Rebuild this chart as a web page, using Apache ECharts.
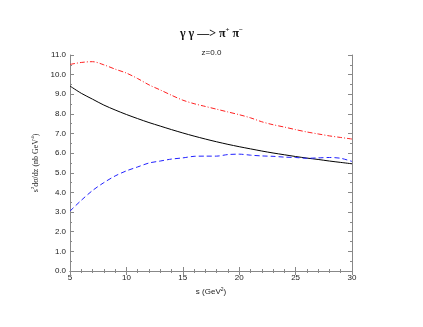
<!DOCTYPE html>
<html>
<head>
<meta charset="utf-8">
<script src="https://cdn.jsdelivr.net/npm/echarts@6/dist/echarts.min.js"></script>
<style>
html, body { margin: 0; padding: 0; background: #fff; }
#main { width: 423px; height: 327px; }
</style>
</head>
<body>
<div id="main"></div>
<script>
// s values (GeV^2)
var sVals = [5, 6, 7, 8, 9, 10, 11, 12, 13, 14, 15, 16, 17, 18, 19, 20, 21, 22, 23, 24, 25, 26, 27, 28, 29, 30];
// red dash-dot curve
var redVals = [10.52, 10.62, 10.66, 10.5, 10.28, 10.08, 9.8, 9.48, 9.22, 8.95, 8.7, 8.52, 8.38, 8.24, 8.1, 7.96, 7.8, 7.6, 7.45, 7.33, 7.2, 7.08, 6.98, 6.88, 6.8, 6.72];
// black solid curve
var blackVals = [9.42, 9.05, 8.75, 8.45, 8.2, 7.97, 7.76, 7.56, 7.38, 7.2, 7.03, 6.87, 6.72, 6.58, 6.45, 6.33, 6.22, 6.11, 6.01, 5.92, 5.83, 5.75, 5.68, 5.6, 5.53, 5.46];
// blue dashed curve
var blueVals = [3.05, 3.6, 4.1, 4.5, 4.84, 5.1, 5.3, 5.5, 5.6, 5.7, 5.76, 5.84, 5.85, 5.85, 5.93, 5.95, 5.9, 5.86, 5.84, 5.8, 5.78, 5.74, 5.76, 5.78, 5.74, 5.58];

function pairs(ys) {
    var out = [];
    for (var i = 0; i < sVals.length; i++) {
        out.push([sVals[i], ys[i]]);
    }
    return out;
}

var axisColor = '#888';
var labelStyle = { fontSize: 8, color: '#222', fontFamily: 'Liberation Sans' };

var chart = echarts.init(document.getElementById('main'));
var option = {
    animation: false,
    title: [
        {
            text: '{t|γ γ —> π}{s|+}{t| π}{s|−}',
            left: 'center',
            top: 22,
            textStyle: {
                rich: {
                    t: { fontSize: 12, fontFamily: 'Liberation Serif', color: '#111' },
                    s: { fontSize: 7, fontFamily: 'Liberation Serif', color: '#111', verticalAlign: 'top', padding: [0, 0, 6, 0] }
                }
            }
        },
        {
            text: 'z=0.0',
            left: 'center',
            top: 44,
            textStyle: { fontSize: 8, fontWeight: 'normal', color: '#222', fontFamily: 'Liberation Sans' }
        }
    ],
    grid: { left: 70, right: 71, top: 55, bottom: 56 },
    xAxis: [
        {
            type: 'value', min: 5, max: 30, interval: 5,
            name: '{a|s (GeV}{b|2}{a|)}',
            nameLocation: 'middle', nameGap: 13,
            nameTextStyle: { rich: {
                a: { fontSize: 8, color: '#222', fontFamily: 'Liberation Sans' },
                b: { fontSize: 5, color: '#222', fontFamily: 'Liberation Sans', verticalAlign: 'top', padding: [0, 0, 5, 0] }
            } },
            axisLine: { show: true, lineStyle: { color: axisColor } },
            axisTick: { inside: true, length: 4, lineStyle: { color: axisColor } },
            minorTick: { show: true, splitNumber: 5, length: 2, lineStyle: { color: axisColor } },
            axisLabel: Object.assign({ margin: 3 }, labelStyle),
            splitLine: { show: false }
        },
        {
            type: 'value', min: 5, max: 30, interval: 5, position: 'top',
            axisLine: { show: true, lineStyle: { color: axisColor } },
            axisTick: { inside: true, length: 4, lineStyle: { color: axisColor } },
            minorTick: { show: true, splitNumber: 5, length: 2, lineStyle: { color: axisColor } },
            axisLabel: { show: false },
            splitLine: { show: false }
        }
    ],
    yAxis: [
        {
            type: 'value', min: 0, max: 11, interval: 1,
            name: '{a|s}{b|2}{a|dσ/dz (nb GeV}{b|4}{a|)}',
            nameLocation: 'middle', nameGap: 29, nameRotate: 90,
            nameTextStyle: { rich: {
                a: { fontSize: 8, color: '#222', fontFamily: 'Liberation Serif' },
                b: { fontSize: 5, color: '#222', fontFamily: 'Liberation Serif', verticalAlign: 'top', padding: [0, 0, 5, 0] }
            } },
            axisLine: { show: true, lineStyle: { color: axisColor } },
            axisTick: { inside: true, length: 4, lineStyle: { color: axisColor } },
            minorTick: { show: true, splitNumber: 2, length: 2, lineStyle: { color: axisColor } },
            axisLabel: Object.assign({ margin: 4, formatter: function (v) { return v.toFixed(1); } }, labelStyle),
            splitLine: { show: false }
        },
        {
            type: 'value', min: 0, max: 11, interval: 1, position: 'right',
            axisLine: { show: true, lineStyle: { color: axisColor } },
            axisTick: { inside: true, length: 4, lineStyle: { color: axisColor } },
            minorTick: { show: true, splitNumber: 2, length: 2, lineStyle: { color: axisColor } },
            axisLabel: { show: false },
            splitLine: { show: false }
        }
    ],
    series: [
        {
            type: 'line', data: pairs(redVals), smooth: 0.3, symbol: 'none',
            lineStyle: { color: '#ff2020', width: 1, type: [5, 2, 1, 2] }
        },
        {
            type: 'line', data: pairs(blackVals), smooth: 0.3, symbol: 'none',
            lineStyle: { color: '#000', width: 1, type: 'solid' }
        },
        {
            type: 'line', data: pairs(blueVals), smooth: 0.3, symbol: 'none',
            lineStyle: { color: '#2020ff', width: 1, type: [5, 3] }
        }
    ]
};
chart.setOption(option);
window.addEventListener('resize', function () {
    chart.resize();
});
</script>
</body>
</html>
